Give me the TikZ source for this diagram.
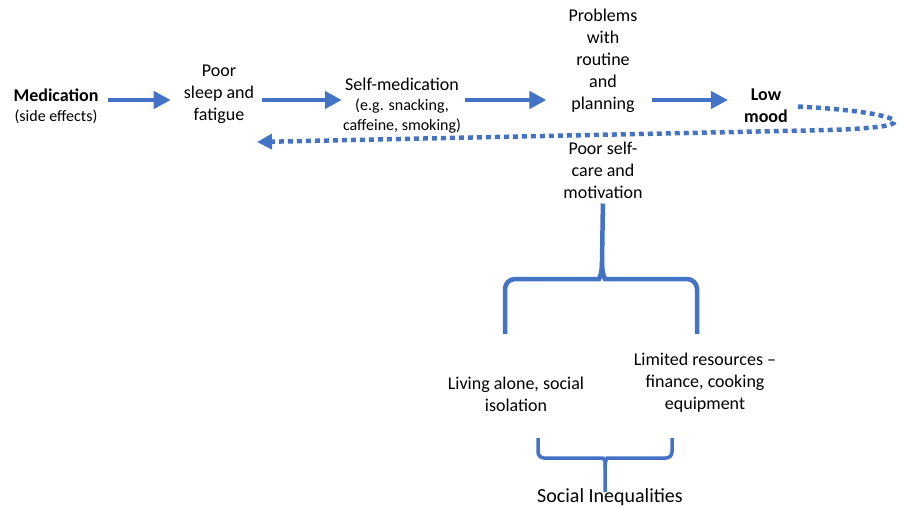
\documentclass[tikz,border=0pt]{standalone}
\usepackage{fontspec}
\setmainfont{Carlito}
\usetikzlibrary{arrows.meta}
\definecolor{officeblue}{HTML}{4472C4}
\begin{document}
\begin{tikzpicture}[x=1pt,y=-1pt,
  box/.style={align=center,inner sep=0pt,font=\fontsize{18}{22}\selectfont},
  flow/.style={draw=officeblue,line width=4.5pt,-{Triangle[length=17pt,width=17pt]}},
  loopback/.style={draw=officeblue,line width=4.5pt,dash pattern=on 5pt off 4pt,-{Triangle[length=15pt,width=15pt]}},
  bracket/.style={draw=officeblue,line width=4.5pt,rounded corners=10pt},
  smallbracket/.style={bracket,line width=3.5pt,rounded corners=6pt}]
  \useasboundingbox (0,0) rectangle (906,508);
  \node (med) [box] at (56,106) {\textbf{Medication}\\[-2pt]{\fontsize{16}{20}\selectfont(side effects)}};
  \node (sleep) [box] at (219,94) {Poor\\sleep and\\fatigue};
  \node (selfmed) [box] at (402,106) {Self-medication\\[-2pt]{\fontsize{16}{20}\selectfont(e.g. snacking,}\\[-2pt]{\fontsize{16}{20}\selectfont caffeine, smoking)}};
  \node (routine) [box] at (603,61) {Problems\\with\\routine\\and\\planning};
  \node (mood) [box,font=\fontsize{18}{22}\selectfont\bfseries] at (766,106) {Low\\mood};
  \node (selfcare) [box] at (603,170) {Poor self-\\care and\\motivation};
  \node (alone) [box] at (516,394) {Living alone, social\\isolation};
  \node (resources) [box] at (705,383) {Limited resources --\\finance, cooking\\equipment};
  \node (inequal) [box,font=\fontsize{20}{24}\selectfont] at (610,497) {Social Inequalities};
  \coordinate (row) at (0,100);
  \coordinate (loopend) at (257,142);
  \coordinate (cusp) at (602,262);
  \draw[flow,shorten <=9pt,shorten >=13pt] (med.east |- row) -- (sleep.west |- row);
  \draw[flow,shorten <=8pt,shorten >=1pt] (sleep.east |- row) -- (selfmed.west |- row);
  \draw[flow,shorten <=4pt,shorten >=22pt] (selfmed.east |- row) -- (routine.west |- row);
  \draw[flow,shorten <=14pt,shorten >=16pt] (routine.east |- row) -- (mood.west |- row);
  \draw[loopback,shorten <=10pt] (mood.east) .. controls (865,110) and (905,118) .. (892,124)
    .. controls (885,127) and (860,129) .. (830,130) -- (loopend);
  % brace under self-care
  \draw[bracket,shorten <=5pt] (selfcare.south) -- (cusp);
  \draw[bracket] (cusp) .. controls (602,274) and (599,279) .. (589,279) -- (505,279) -- (505,334);
  \draw[bracket] (cusp) .. controls (602,274) and (605,279) .. (615,279) -- (697,279) -- (697,334);
  % brace over inequalities
  \draw[smallbracket] (538,438) -- (538,458) -- (597,458) .. controls (603,458) and (605,461) .. (605,467) -- (605,492);
  \draw[smallbracket] (672,438) -- (672,458) -- (613,458) .. controls (607,458) and (605,461) .. (605,467);
\end{tikzpicture}
\end{document}
